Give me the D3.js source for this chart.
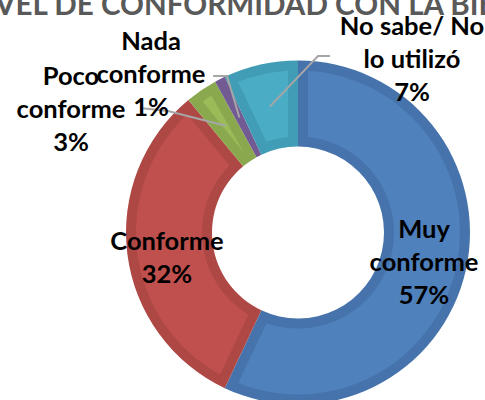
<!DOCTYPE html>
<meta charset="utf-8">
<style>
body { margin: 0; background: #fff; }
#dona text.etiqueta {
  font: bold 25.5px Lato, sans-serif;
  fill: #000;
  text-anchor: middle;
}
#dona text.titulo {
  font: bold 29.6px Lato, sans-serif;
  fill: #595959;
}
#dona polyline {
  fill: none;
  stroke: #a6a6a6;
  stroke-width: 2;
}
</style>
<svg id="dona"></svg>
<script src="https://d3js.org/d3.v7.min.js"></script>
<script>

var titulo = "NIVEL DE CONFORMIDAD CON LA BIBLIOTECA";
var categorias = ["Muy conforme", "Conforme", "Poco conforme", "Nada conforme", "No sabe/ No lo utilizó"];
var valores = [57, 32, 3, 1, 7];
var lineasEtiqueta = [["Muy", "conforme"], ["Conforme"], ["Poco", "conforme"], ["Nada", "conforme"], ["No sabe/ No", "lo utilizó"]];

var colores = ["#4f81bd", "#c0504d", "#9bbb59", "#8064a2", "#4bacc6"],
    bordes  = ["#4673ab", "#ad4845", "#8aa94f", "#725a93", "#419db5"];

var width = 485,
    height = 400,
    cx = 298,
    cy = 232.5,
    rExt = 172,
    rInt = 86,
    borde = 10;

// donde va cada etiqueta (centro del bloque, primera linea) y el codo de la linea guia
var posEtiqueta = [
  {x: 424, y: 238},
  {x: 167, y: 250},
  {x: 71, y: 85, codo: [168, 111], fin: [140, 108]},
  {x: 151, y: 50, codo: [227, 76], fin: [213, 76]},
  {x: 412, y: 35, codo: [318, 56], fin: [330, 56]}
];
var interlinea = 33;

var svg = d3.select("#dona")
    .attr("width", width)
    .attr("height", height);

var pie = d3.pie().sort(null).value(function(d) { return d; });
var arcos = pie(valores);

var arco = d3.arc().innerRadius(rInt).outerRadius(rExt);
var arcoInt = d3.arc()
    .innerRadius(rInt + borde)
    .outerRadius(rExt - borde)
    .padRadius(129)
    .padAngle(2 * borde / 129);

var g = svg.append("g").attr("transform", "translate(" + cx + "," + cy + ")");

g.selectAll("path.borde")
    .data(arcos)
  .enter().append("path")
    .attr("class", "borde")
    .attr("d", arco)
    .attr("fill", function(d, i) { return bordes[i]; });

g.selectAll("path.relleno")
    .data(arcos)
  .enter().append("path")
    .attr("class", "relleno")
    .attr("d", arcoInt)
    .attr("fill", function(d, i) { return colores[i]; });

// el titulo queda cortado arriba y a la izquierda, como en la imagen original
var tit = svg.append("text")
    .attr("class", "titulo")
    .attr("y", 15)
    .text(titulo);
tit.attr("x", -tit.node().getSubStringLength(0, 2) - 5);

// lineas guia de los sectores chicos
arcos.forEach(function(d, i) {
  var p = posEtiqueta[i];
  if (!p.codo) return;
  var c = arco.centroid(d);
  svg.append("polyline")
      .attr("points", [[c[0] + cx, c[1] + cy], p.codo, p.fin].join(" "));
});

arcos.forEach(function(d, i) {
  var p = posEtiqueta[i];
  var lineas = lineasEtiqueta[i].concat([d3.format(".0f")(d.value) + "%"]);
  var t = svg.append("text")
      .attr("class", "etiqueta")
      .attr("x", p.x)
      .attr("y", p.y);
  lineas.forEach(function(l, j) {
    t.append("tspan")
        .attr("x", p.x)
        .attr("dy", j == 0 ? 0 : interlinea)
        .text(l);
  });
});

</script>
